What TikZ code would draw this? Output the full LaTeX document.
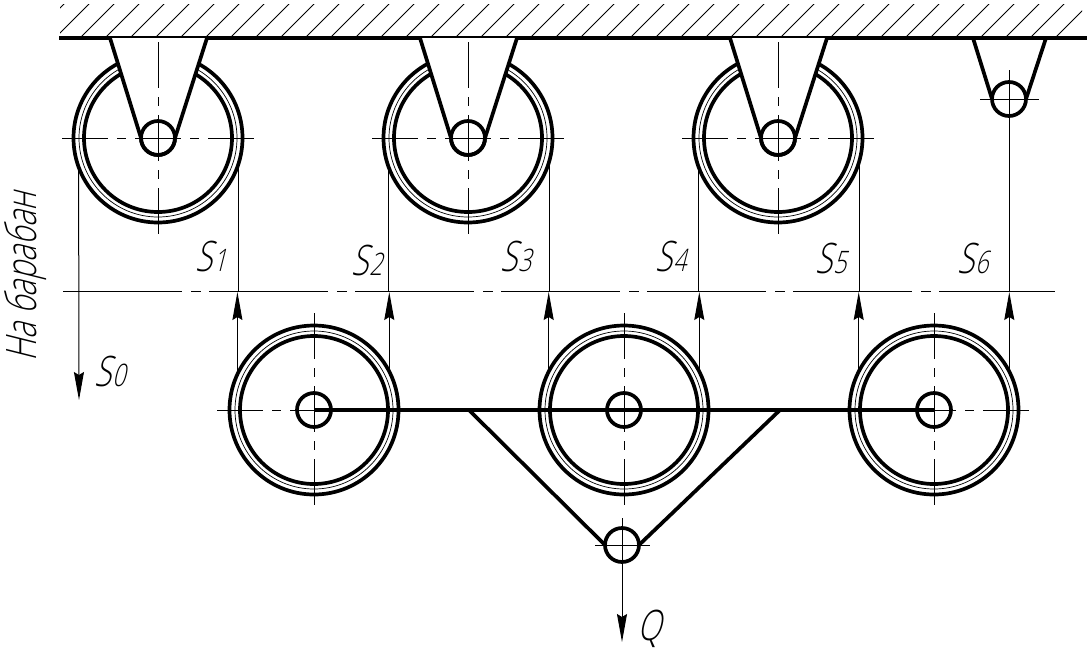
\documentclass[tikz,border=0pt]{standalone}
\usepackage{fontspec}
\usepackage{xcolor}
\usetikzlibrary{arrows.meta}
\newfontfamily\gostfont[FakeSlant=0.25,FakeStretch=0.74]{Open Sans Light}
\newcommand{\bigtxt}{\fontsize{42}{42}\selectfont}
\newcommand{\lowtxt}{\fontsize{31}{31}\selectfont}

\begin{document}
\begin{tikzpicture}[x=1pt,y=-1pt,
            ringout/.style={shape=circle, inner sep=0pt, outer sep=0pt, draw, line width=3.7pt, minimum size=169pt},
            ringmid/.style={shape=circle, inner sep=0pt, outer sep=0pt, draw, line width=0.7pt, minimum size=158pt},
            ringin/.style={shape=circle, inner sep=0pt, outer sep=0pt, draw, line width=3.7pt, minimum size=148pt},
            axle/.style={shape=circle, inner sep=0pt, outer sep=0pt, draw, line width=3.7pt, minimum size=34pt},
            bold/.style={line width=3.7pt},
            thinl/.style={line width=1pt},
            axis/.style={line width=1pt, dash pattern=on 46pt off 9pt on 9pt off 9pt},
            rope/.style={line width=1pt},
            force/.style={line width=1pt, -{Stealth[length=28pt,width=10pt,inset=3pt]}},
            lbl/.style={inner sep=0pt, anchor=base west, font=\gostfont\bigtxt}]
        \useasboundingbox (0,0) rectangle (1087,654);

        % ceiling
        \begin{scope}
            \clip (60,4) rectangle (1082,36);
            \foreach \k in {0,...,41}
                \draw[thinl] ({68+25*\k},0) -- ({28+25*\k},40);
        \end{scope}
        \coordinate (roofW) at (59,38);
        \coordinate (roofE) at (1087,38);
        \draw[bold] (roofW) -- (roofE);

        % pulleys
        \foreach \n/\x/\y in {p1/158/138,p2/468/138,p3/778/138,b1/314/410,b2/624/410,b3/934/410}{
            \node[ringout] (\n) at (\x,\y) {};
            \node[ringmid] (\n m) at (\x,\y) {};
            \node[ringin] (\n i) at (\x,\y) {};
        }

        % brackets
        \foreach \n/\x in {p1/158,p2/468,p3/778}{
            \node[axle] (\n a) at (\x,138) {};
            \coordinate (\n L) at (\x-48,38);
            \coordinate (\n R) at (\x+49,38);
            \fill[white] (\n L) -- (\n a.west) -- (\n a.east) -- (\n R) -- cycle;
            \draw[bold] (\n L) -- (\n a.west);
            \draw[bold] (\n R) -- (\n a.east);
            \draw[axis] (\x-96,138) -- (\x+96,138);
            \draw[axis] (\x,42) -- (\x,234);
            \node[axle] at (\x,138) {};
        }
        \node[axle] (p4a) at (1009,99) {};
        \coordinate (p4L) at (973,38);
        \coordinate (p4R) at (1046,38);
        \draw[bold] (p4L) -- (p4a.west);
        \draw[bold] (p4R) -- (p4a.east);
        \draw[thinl] (980,99) -- (1039,99);
        \draw[thinl] (1009,70) -- (1009,99);

        % lower block
        \foreach \n/\x in {b1/314,b2/624,b3/934}{
            \draw[axis] (\x-97,410) -- (\x+97,410);
            \draw[axis] (\x,313) -- (\x,507);
            \node[axle] (\n a) at (\x,410) {};
        }
        \node[axle] (hook) at (622,545) {};
        \coordinate (armL) at (469,410);
        \coordinate (armR) at (780,410);
        \draw[bold] (b1a.center) -- (b3a.center);
        \draw[bold] (armL) -- (hook.west);
        \draw[bold] (armR) -- (hook.east);
        \draw[thinl] (595,545) -- (650,545);
        \draw[thinl] (622,518) -- (622,545);

        % level line
        \coordinate (lvlW) at (63,291);
        \coordinate (lvlE) at (1055,291);
        \draw[line width=1pt, dash pattern=on 119pt off 9pt on 10pt off 8pt] (lvlW) -- (lvlE);

        % ropes
        \coordinate (endS) at (79,400);
        \coordinate (endQ) at (622,642);
        \draw[force] (p1.200) -- (endS);
        \foreach \n/\a in {p1/-17,p2/200,p2/-15,p3/200,p3/-15}
            \draw[rope] (\n.\a) -- (\n.\a |- lvlW);
        \draw[rope] (p4a.center) -- (p4a.center |- lvlW);
        \foreach \n/\a in {b1/155,b1/27,b2/153,b2/27,b3/153,b3/27}{
            \coordinate (t\n\a) at ([yshift=-1pt]\n.\a |- lvlW);
            \draw[force] (\n.\a) -- (t\n\a);
        }
        \draw[force] (hook.center) -- (endQ);

        % labels
        \foreach \n/\x/\y/\t in {s0/94/386/0,s1/195/271/1,s2/351/275/2,s3/500/271/3,s4/655/271/4,s5/815/273/5,s6/957/273/6}
            \node[lbl] (\n) at (\x,\y) {S\kern1pt{\lowtxt\t}};
        \node[lbl] (lq) at (637,640) {Q};
        \node[lbl, rotate=90] (drum) at (36,362) {На барабан};
    \end{tikzpicture}
\end{document}
